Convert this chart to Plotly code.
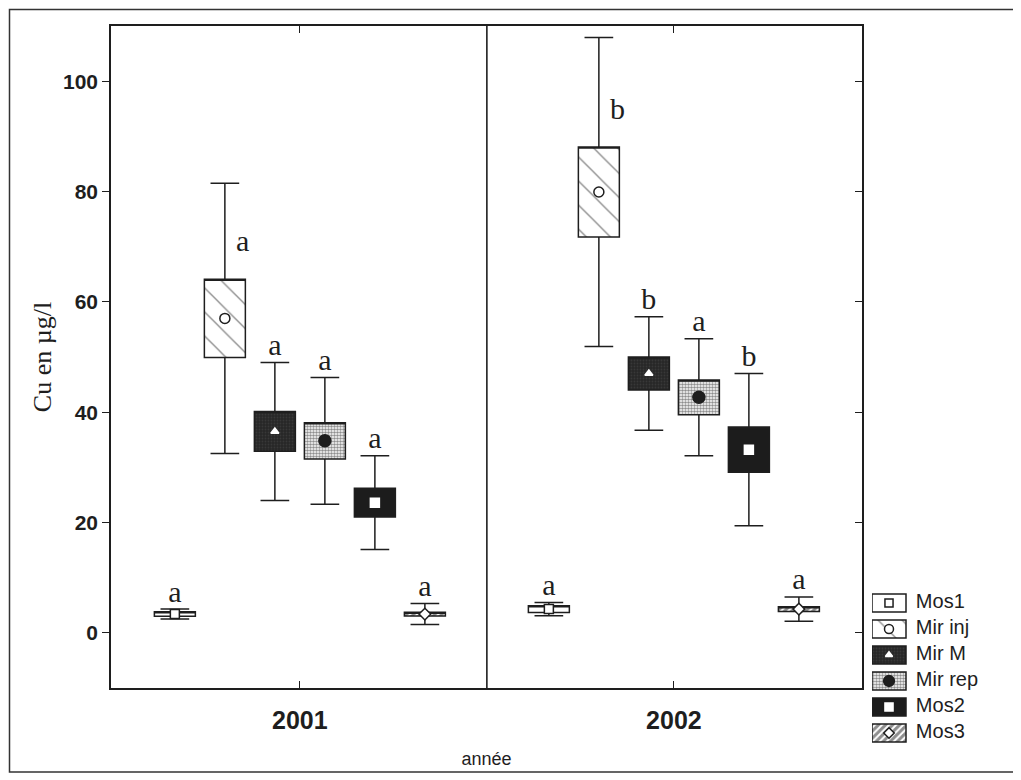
import plotly.graph_objects as go

# ---------------- data ----------------
years = ["2001", "2002"]
series = ["Mos1", "Mir inj", "Mir M", "Mir rep", "Mos2", "Mos3"]

mean_2001 = [3.4, 57.0, 36.5, 34.8, 23.6, 3.4]
se_2001 = [0.4, 7.1, 3.6, 3.3, 2.6, 0.35]
sd_2001 = [0.9, 24.5, 12.5, 11.5, 8.5, 1.9]

mean_2002 = [4.3, 79.9, 47.0, 42.7, 33.2, 4.3]
se_2002 = [0.6, 8.15, 3.0, 3.15, 4.1, 0.45]
sd_2002 = [1.2, 28.0, 10.3, 10.6, 13.8, 2.2]

letters_2001 = ["a", "a", "a", "a", "a", "a"]
letters_2002 = ["a", "b", "b", "a", "b", "a"]

y_ticks = [0, 20, 40, 60, 80, 100]

# ---------------- styles ----------------
SANS = "Liberation Sans, Arial, sans-serif"
SERIF = "Liberation Serif, Times New Roman, serif"
INK = "#1e1e1e"

styles = [
    dict(bg="white", pat=dict(shape=""), sym="square", msize=9, mcol="white", mline=INK),
    dict(bg="white", pat=dict(shape="\\", fgcolor="#1e1e1e", bgcolor="white", size=17, solidity=0.08),
         sym="circle", msize=10, mcol="white", mline=INK),
    dict(bg="#2b2b2b", pat=dict(shape=".", fgcolor="#4a4a4a", bgcolor="#262626", size=3, solidity=0.3),
         sym="triangle-up", msize=7, mcol="white", mline="white"),
    dict(bg="white", pat=dict(shape=".", fgcolor="#1e1e1e", bgcolor="white", size=3, solidity=0.55),
         sym="circle", msize=12, mcol=INK, mline=INK),
    dict(bg="#1c1c1c", pat=dict(shape=""), sym="square", msize=9, mcol="white", mline="white"),
    dict(bg="white", pat=dict(shape="/", fgcolor="#1e1e1e", bgcolor="white", size=5, solidity=0.6),
         sym="diamond", msize=9, mcol="white", mline=INK),
]

n = len(series)
step = 0.1337
box_w = 0.1096
offsets = [(k - (n - 1) / 2) * step for k in range(n)]

means = list(zip(mean_2001, mean_2002))
ses = list(zip(se_2001, se_2002))
sds = list(zip(sd_2001, sd_2002))
letters = list(zip(letters_2001, letters_2002))

fig = go.Figure()

for k, name in enumerate(series):
    st = styles[k]
    xs = [i + offsets[k] for i in range(len(years))]
    m = list(means[k])
    se = list(ses[k])
    sd = list(sds[k])
    q1 = [a - b for a, b in zip(m, se)]
    q3 = [a + b for a, b in zip(m, se)]
    lo = [a - b for a, b in zip(m, sd)]
    hi = [a + b for a, b in zip(m, sd)]

    # filled body of the box (mean +/- SE)
    fig.add_trace(go.Bar(
        x=xs, y=[b - a for a, b in zip(q1, q3)], base=q1, width=box_w,
        marker=dict(color=st["bg"], pattern=st["pat"], line=dict(width=0)),
        showlegend=False, hoverinfo="skip"))

    # outline + whiskers (mean +/- SD)
    fig.add_trace(go.Box(
        x=xs, q1=q1, median=q3, q3=q3, lowerfence=lo, upperfence=hi,
        width=box_w, whiskerwidth=0.7, boxpoints=False,
        fillcolor="rgba(0,0,0,0)", line=dict(color=INK, width=1.5),
        showlegend=False, hoverinfo="skip"))

    # mean marker
    fig.add_trace(go.Scatter(
        x=xs, y=m, mode="markers",
        marker=dict(symbol=st["sym"], size=st["msize"], color=st["mcol"],
                    line=dict(color=st["mline"], width=1.5)),
        showlegend=False, hoverinfo="skip"))

    # significance letters
    if name == "Mir inj":
        fig.add_trace(go.Scatter(
            x=[x + 0.03 for x in xs], y=[b + 6.5 for b in q3], mode="text",
            text=list(letters[k]), textposition="middle right",
            textfont=dict(family=SERIF, size=30, color=INK),
            cliponaxis=False, showlegend=False, hoverinfo="skip"))
    else:
        fig.add_trace(go.Scatter(
            x=xs, y=hi, mode="text", text=list(letters[k]),
            textposition="top center",
            textfont=dict(family=SERIF, size=30, color=INK),
            cliponaxis=False, showlegend=False, hoverinfo="skip"))

    # ---- custom legend (drawn on a small auxiliary axis) ----
    fig.add_trace(go.Bar(
        y=[k], x=[0.2636], base=[0], width=0.7, orientation="h",
        marker=dict(color=st["bg"], pattern=st["pat"], line=dict(color=INK, width=1.5)),
        xaxis="x3", yaxis="y3", showlegend=False, hoverinfo="skip"))
    fig.add_trace(go.Scatter(
        x=[0.1318], y=[k], mode="markers",
        marker=dict(symbol=st["sym"], size=st["msize"] * 0.9, color=st["mcol"],
                    line=dict(color=st["mline"], width=1.5)),
        xaxis="x3", yaxis="y3", showlegend=False, hoverinfo="skip"))
    fig.add_trace(go.Scatter(
        x=[0.34], y=[k], mode="text", text=[name], textposition="middle right",
        textfont=dict(family=SANS, size=20, color=INK), cliponaxis=False,
        xaxis="x3", yaxis="y3", showlegend=False, hoverinfo="skip"))

# empty trace so the right-hand (inside-tick) axis is created
fig.add_trace(go.Scatter(x=[], y=[], yaxis="y2", showlegend=False, hoverinfo="skip"))

# The page body adds an 8 px margin, so the figure is 8 px smaller than the window
# and every layout pixel is 8 px less than its page pixel.
W, H = 1013, 772
ML, MT, MR, MB = 103, 18, 20, 20
PW, PH = W - ML - MR, H - MT - MB      # 890 x 734


def px_x(page_x):
    return (page_x - 8 - ML) / PW


def px_y(page_y):
    return (H - MB - (page_y - 8)) / PH


x_main_dom = [0, px_x(862)]
y_main_dom = [px_y(688), 1]

fig.update_layout(
    width=W, height=H,
    margin=dict(l=ML, r=MR, t=MT, b=MB, autoexpand=False),
    paper_bgcolor="white", plot_bgcolor="white",
    barmode="overlay", boxmode="overlay",
    showlegend=False,
    xaxis=dict(
        domain=x_main_dom, range=[-0.505, 1.503], automargin=False,
        tickvals=[0, 1], ticktext=years,
        ticks="inside", ticklen=7, tickwidth=1.3, tickcolor=INK,
        showline=True, linecolor=INK, linewidth=1.6, mirror="ticks",
        showgrid=False, zeroline=False,
        tickfont=dict(family=SANS, size=25, color=INK, weight="bold"),
        ticklabelstandoff=9,
        title=dict(text="année", font=dict(family=SANS, size=18, color=INK), standoff=20),
    ),
    yaxis=dict(
        domain=y_main_dom, range=[-10, 110], automargin=False,
        tickvals=y_ticks, ticks="outside", ticklen=7, tickwidth=1.3, tickcolor=INK,
        showline=True, linecolor=INK, linewidth=1.6,
        showgrid=False, zeroline=False,
        tickfont=dict(family=SANS, size=21, color=INK, weight="bold"),
        title=dict(text="Cu en µg/l", font=dict(family=SERIF, size=26, color=INK), standoff=4),
    ),
    yaxis2=dict(
        overlaying="y", side="right", anchor="x", range=[-10, 110], automargin=False,
        tickvals=y_ticks, ticks="inside", ticklen=7, tickwidth=1.3, tickcolor=INK,
        showline=True, linecolor=INK, linewidth=1.6, showticklabels=False,
        showgrid=False, zeroline=False,
    ),
    xaxis3=dict(domain=[px_x(872), 1], range=[0, 1], anchor="y3",
                visible=False, fixedrange=True, automargin=False),
    yaxis3=dict(domain=[px_y(746), px_y(590)], range=[5.5, -0.5],
                anchor="x3", visible=False, fixedrange=True, automargin=False),
    shapes=[
        dict(type="line", xref="x", yref="y domain", x0=0.5, x1=0.5, y0=0, y1=1,
             line=dict(color=INK, width=1.6)),
        dict(type="rect", xref="paper", yref="paper",
             x0=px_x(9.5), x1=px_x(1015),
             y0=px_y(772), y1=px_y(9.5),
             line=dict(color="#333333", width=1.5)),
    ],
)

fig.write_html("out.html")
